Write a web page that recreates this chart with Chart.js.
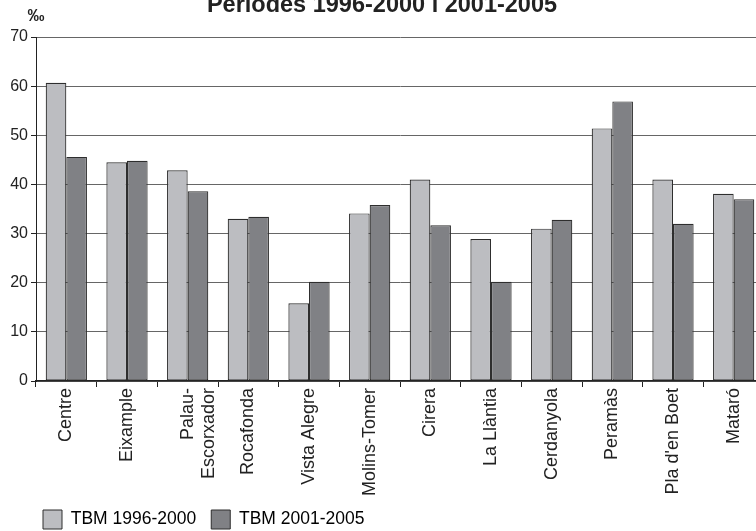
<!DOCTYPE html>
<html>
<head>
<meta charset="utf-8">
<script src="https://cdn.jsdelivr.net/npm/chart.js@4/dist/chart.umd.min.js"></script>
<style>
  html, body { margin: 0; padding: 0; background: #fff; overflow: hidden; }
  #wrap { width: 770px; height: 531px; position: relative; }
</style>
</head>
<body>
<div id="wrap"><canvas id="myChart"></canvas></div>
<script>
"use strict";
// barris de Mataró
const labels = ["Centre", "Eixample", ["Palau-", "Escorxador"], "Rocafonda", "Vista Alegre",
  "Molins-Tomer", "Cirera", "La Llàntia", "Cerdanyola", "Peramàs", "Pla d'en Boet", "Mataró"];
const tbm9600 = [60.7, 44.5, 42.9, 33.0, 15.8, 34.1, 41.0, 28.9, 31.0, 51.4, 41.0, 38.1];
const tbm0105 = [45.6, 44.8, 38.6, 33.4, 20.2, 35.8, 31.7, 20.2, 32.8, 56.9, 32.0, 37.0];
const yTicks = [0, 10, 20, 30, 40, 50, 60, 70];

const FONT = "'Liberation Sans', Arial, sans-serif";

// legend and ‰ sign
const extras = {
  id: "extras",
  afterLayout(chart) {
    chart.legend.left = 28;
    chart.legend.top = 495;
  },
  afterDraw(chart) {
    const ctx = chart.ctx;
    ctx.save();
    ctx.font = "bold 17px " + FONT;
    ctx.fillStyle = "#222";
    ctx.textAlign = "center";
    ctx.textBaseline = "middle";
    ctx.fillText("‰", chart.chartArea.left, 16);
    ctx.restore();
  }
};

const ctx = document.getElementById("myChart").getContext("2d");
const chart = new Chart(ctx, {
  type: "bar",
  data: {
    labels: labels,
    datasets: [
      {
        label: "TBM 1996-2000",
        data: tbm9600,
        backgroundColor: "#bcbdc1",
        borderColor: "#2e2e2e",
        borderWidth: 1.2,
        borderSkipped: false
      },
      {
        label: "TBM 2001-2005",
        data: tbm0105,
        backgroundColor: "#808185",
        borderColor: "#2e2e2e",
        borderWidth: 1.2,
        borderSkipped: false
      }
    ]
  },
  options: {
    responsive: true,
    maintainAspectRatio: false,
    animation: false,
    layout: { padding: { top: 0, right: 6, left: 0, bottom: 0 } },
    datasets: { bar: { categoryPercentage: 0.68, barPercentage: 1.0 } },
    scales: {
      x: {
        afterFit: s => { s.height = 120; },
        grid: { drawOnChartArea: false, tickLength: 6, tickColor: "#222", offset: true },
        border: { color: "#222", width: 1.5 },
        ticks: {
          minRotation: 90,
          maxRotation: 90,
          autoSkip: false,
          color: "#222",
          padding: 1,
          font: { family: FONT, size: 18 }
        }
      },
      y: {
        min: 0,
        max: 70,
        afterFit: s => { s.width = 36; },
        afterBuildTicks: s => { s.ticks = yTicks.map(v => ({ value: v })); },
        grid: { color: "#666", lineWidth: 1, tickLength: 5, tickColor: "#222" },
        border: { color: "#222", width: 1 },
        ticks: {
          color: "#222",
          padding: 3,
          font: { family: FONT, size: 16 }
        }
      }
    },
    plugins: {
      title: {
        display: true,
        text: "Períodes 1996-2000 i 2001-2005",
        color: "#222",
        font: { family: FONT, size: 23.5, weight: "bold" },
        padding: { top: -9, bottom: 17.8 }
      },
      legend: {
        position: "bottom",
        align: "start",
        maxHeight: 30,
        labels: {
          boxWidth: 19,
          boxHeight: 19,
          padding: 15,
          color: "#222",
          font: { family: FONT, size: 17.5 },
          generateLabels: c => c.data.datasets.map((d, i) => ({
            text: d.label,
            fillStyle: d.backgroundColor,
            strokeStyle: "#2e2e2e",
            lineWidth: 1,
            datasetIndex: i
          }))
        }
      },
      tooltip: { enabled: false }
    }
  },
  plugins: [extras]
});
</script>
</body>
</html>
